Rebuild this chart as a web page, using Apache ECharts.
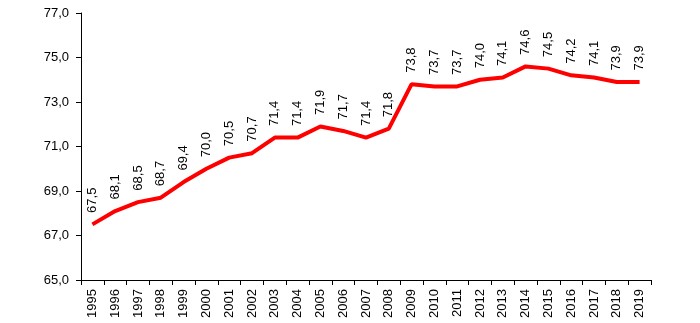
<!DOCTYPE html>
<html>
<head>
<meta charset="utf-8">
<script src="https://cdn.jsdelivr.net/npm/echarts@6/dist/echarts.min.js"></script>
<style>
  html, body { margin: 0; padding: 0; background: #fff; }
  #chart { width: 700px; height: 323px; }
</style>
</head>
<body>
<div id="chart"></div>
<script>
// Years on the category axis
const years = ['1995','1996','1997','1998','1999','2000','2001','2002','2003','2004','2005','2006','2007','2008','2009','2010','2011','2012','2013','2014','2015','2016','2017','2018','2019'];
// Annual values
const values = [67.5, 68.1, 68.5, 68.7, 69.4, 70.0, 70.5, 70.7, 71.4, 71.4, 71.9, 71.7, 71.4, 71.8, 73.8, 73.7, 73.7, 74.0, 74.1, 74.6, 74.5, 74.2, 74.1, 73.9, 73.9];
// Value axis range
const yMin = 65, yMax = 77, yStep = 2;

const fmt = v => Number(v).toFixed(1).replace('.', ',');
const font = 'Liberation Sans, Arial, sans-serif';

const chart = echarts.init(document.getElementById('chart'));
chart.setOption({
  animation: false,
  grid: { left: 81, right: 49, top: 13, bottom: 43 },
  xAxis: {
    type: 'category',
    data: years,
    boundaryGap: true,
    axisLine: { lineStyle: { color: '#000', width: 1 } },
    axisTick: { show: true, alignWithLabel: false, length: 5, lineStyle: { color: '#000' } },
    axisLabel: { rotate: 90, color: '#000', fontSize: 13, fontFamily: font, margin: 9, interval: 0 }
  },
  yAxis: {
    type: 'value',
    min: yMin, max: yMax, interval: yStep,
    axisLine: { show: true, lineStyle: { color: '#000', width: 1 } },
    axisTick: { show: true, length: 5, lineStyle: { color: '#000' } },
    splitLine: { show: false },
    axisLabel: { color: '#000', fontSize: 13, fontFamily: font, margin: 12, formatter: fmt }
  },
  series: [{
    type: 'line',
    data: values,
    symbol: 'circle',
    symbolSize: 1,
    showSymbol: true,
    itemStyle: { color: 'rgba(0,0,0,0)' },
    lineStyle: { color: '#ff0000', width: 4 },
    label: {
      show: true,
      position: 'top',
      distance: 11,
      rotate: 90,
      align: 'left',
      verticalAlign: 'middle',
      color: '#000',
      fontSize: 13,
      fontFamily: font,
      formatter: p => fmt(p.value)
    }
  }]
});
</script>
</body>
</html>
